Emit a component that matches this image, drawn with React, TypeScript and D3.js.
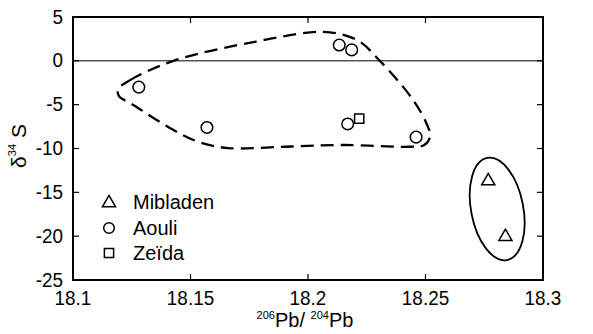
import React, { useEffect, useRef } from "react";
import * as d3 from "d3";

// axis ticks
const xTicks = [18.1, 18.15, 18.2, 18.25, 18.3];
const yTicks = [5, 0, -5, -10, -15, -20, -25];

// samples [206Pb/204Pb, d34S]
const mibladen = [
	[18.2767, -13.6],
	[18.284, -19.95]
];
const aouli = [
	[18.128, -3.0],
	[18.157, -7.6],
	[18.2133, 1.8],
	[18.2186, 1.25],
	[18.2169, -7.2],
	[18.246, -8.7]
];
const zeida = [[18.2218, -6.6]];

// dashed field around the Aouli samples
const aouliField = [
	[18.1193, -3.2],
	[18.1243, -2.2],
	[18.1427, 0],
	[18.178, 2.2],
	[18.2065, 3.3],
	[18.2207, 2.4],
	[18.2306, 0],
	[18.2447, -4.45],
	[18.2505, -7.2],
	[18.252, -8.6],
	[18.2495, -9.6],
	[18.243, -9.8],
	[18.215, -9.6],
	[18.19, -9.8],
	[18.166, -9.95],
	[18.154, -9.3],
	[18.1426, -7.87],
	[18.1255, -5.0],
	[18.1195, -4.0]
];

// ellipse around Mibladen: center, semi-axes (data units)
const mibladenCenter = [18.2805, -16.9];
const mibladenRadii = [0.0111, 5.93];

const legendItems = ["Mibladen", "Aouli", "Zeïda"];

const W = 593;
const H = 334;
const FONT = "'Liberation Sans', Arial, Helvetica, sans-serif";

export default function App() {
	const ref = useRef(null);

	useEffect(() => {
		const svg = d3.select(ref.current);
		svg.selectAll("*").remove();

		const x = d3.scaleLinear().domain([18.1, 18.3]).range([73, 543]);
		const y = d3.scaleLinear().domain([-25, 5]).range([280, 17]);

		const tick = 6;

		// frame
		svg.append("rect")
			.attr("x", x(18.1))
			.attr("y", y(5))
			.attr("width", x(18.3) - x(18.1))
			.attr("height", y(-25) - y(5))
			.attr("fill", "none")
			.attr("stroke", "#000")
			.attr("stroke-width", 2);

		// zero line
		svg.append("line")
			.attr("x1", x(18.1))
			.attr("x2", x(18.3))
			.attr("y1", y(0))
			.attr("y2", y(0))
			.attr("stroke", "#000")
			.attr("stroke-width", 1);

		const axes = svg.append("g").attr("stroke", "#000").attr("stroke-width", 1.2);
		xTicks.slice(1, -1).forEach((v) => {
			axes.append("line").attr("x1", x(v)).attr("x2", x(v)).attr("y1", y(-25)).attr("y2", y(-25) - tick);
			axes.append("line").attr("x1", x(v)).attr("x2", x(v)).attr("y1", y(5)).attr("y2", y(5) + tick);
		});
		yTicks.slice(1, -1).forEach((v) => {
			axes.append("line").attr("x1", x(18.1)).attr("x2", x(18.1) + tick).attr("y1", y(v)).attr("y2", y(v));
			axes.append("line").attr("x1", x(18.3)).attr("x2", x(18.3) - tick).attr("y1", y(v)).attr("y2", y(v));
		});

		// tick labels (narrow, tall lettering)
		svg.append("g")
			.selectAll("text")
			.data(xTicks)
			.enter()
			.append("text")
			.attr("transform", (d) => `translate(${x(d)},305) scale(0.9,1)`)
			.attr("text-anchor", "middle")
			.style("font-family", FONT)
			.style("font-size", "21px")
			.text((d) => d3.format("")(d));

		svg.append("g")
			.selectAll("text")
			.data(yTicks)
			.enter()
			.append("text")
			.attr("transform", (d) => `translate(63,${y(d) - 1}) scale(0.9,1)`)
			.attr("dy", "0.36em")
			.attr("text-anchor", "end")
			.style("font-family", FONT)
			.style("font-size", "21px")
			.text((d) => d);

		// axis titles
		const xt = svg.append("text")
			.attr("x", 305)
			.attr("y", 327)
			.attr("text-anchor", "middle")
			.style("font-family", FONT)
			.style("font-size", "20px");
		xt.append("tspan").style("font-size", "11px").attr("dy", -8).text("206");
		xt.append("tspan").attr("dy", 8).text("Pb/ ");
		xt.append("tspan").style("font-size", "11px").attr("dy", -8).text("204");
		xt.append("tspan").attr("dy", 8).text("Pb");

		const yt = svg.append("text")
			.attr("transform", "translate(26,146) rotate(-90)")
			.attr("text-anchor", "middle")
			.style("font-family", FONT)
			.style("font-size", "21px");
		yt.append("tspan").text("δ");
		yt.append("tspan").style("font-size", "11px").attr("dy", -10).text("34");
		yt.append("tspan").attr("dy", 10).text(" S");

		// Aouli field
		const line = d3.line()
			.x((d) => x(d[0]))
			.y((d) => y(d[1]))
			.curve(d3.curveCatmullRomClosed.alpha(0.5));
		svg.append("path")
			.attr("d", line(aouliField))
			.attr("fill", "none")
			.attr("stroke", "#000")
			.attr("stroke-width", 2.3)
			.attr("stroke-dasharray", "13,7");

		// Mibladen ellipse
		const ex = x(mibladenCenter[0]);
		const ey = y(mibladenCenter[1]);
		svg.append("ellipse")
			.attr("cx", 0)
			.attr("cy", 0)
			.attr("rx", x(mibladenCenter[0] + mibladenRadii[0]) - ex)
			.attr("ry", ey - y(mibladenCenter[1] + mibladenRadii[1]))
			.attr("transform", `translate(${ex},${ey}) rotate(-11)`)
			.attr("fill", "none")
			.attr("stroke", "#000")
			.attr("stroke-width", 1.8);

		const tri = d3.symbol().type(d3.symbolTriangle).size(75);
		const sq = d3.symbol().type(d3.symbolSquare).size(85);

		const marks = svg.append("g").attr("fill", "#fff").attr("stroke", "#000").attr("stroke-width", 1.5);
		marks.selectAll("circle")
			.data(aouli)
			.enter()
			.append("circle")
			.attr("cx", (d) => x(d[0]))
			.attr("cy", (d) => y(d[1]))
			.attr("r", 5.8);
		marks.selectAll(".sq")
			.data(zeida)
			.enter()
			.append("path")
			.attr("class", "sq")
			.attr("d", sq)
			.attr("transform", (d) => `translate(${x(d[0])},${y(d[1])})`);
		marks.selectAll(".tri")
			.data(mibladen)
			.enter()
			.append("path")
			.attr("class", "tri")
			.attr("d", tri)
			.attr("transform", (d) => `translate(${x(d[0])},${y(d[1]) + 1})`);

		// legend
		const lg = svg.append("g");
		const rows = [202, 228, 253];
		lg.append("path").attr("d", tri).attr("transform", `translate(109,${rows[0] + 1})`)
			.attr("fill", "none").attr("stroke", "#000").attr("stroke-width", 1.5);
		lg.append("circle").attr("cx", 109).attr("cy", rows[1]).attr("r", 5.3)
			.attr("fill", "none").attr("stroke", "#000").attr("stroke-width", 1.5);
		lg.append("path").attr("d", sq).attr("transform", `translate(109,${rows[2]})`)
			.attr("fill", "none").attr("stroke", "#000").attr("stroke-width", 1.5);
		lg.selectAll("text")
			.data(legendItems)
			.enter()
			.append("text")
			.attr("x", 133)
			.attr("y", (d, i) => rows[i])
			.attr("dy", "0.36em")
			.style("font-family", FONT)
			.style("font-size", "20px")
			.text((d) => d);
	}, []);

	return (
		<svg
			ref={ref}
			width={W}
			height={H}
			style={{ position: "absolute", left: 0, top: 0, background: "#fff" }}
		/>
	);
}
